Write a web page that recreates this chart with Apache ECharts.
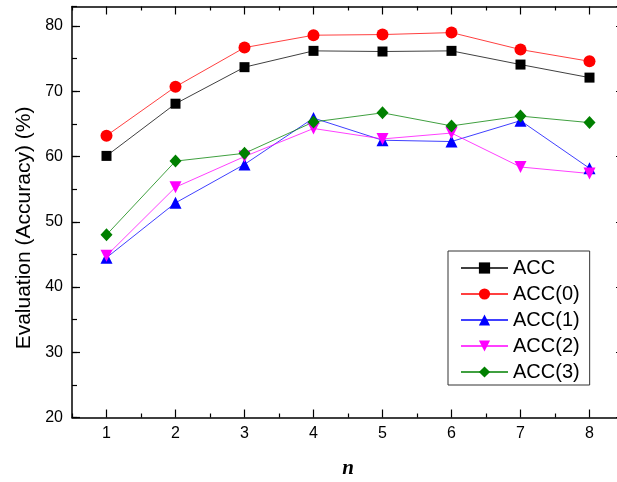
<!DOCTYPE html>
<html>
<head>
<meta charset="utf-8">
<script src="https://cdn.jsdelivr.net/npm/echarts@6/dist/echarts.min.js"></script>
<style>
html,body{margin:0;padding:0;background:#fff;}
#chart{width:617px;height:482px;}
</style>
</head>
<body>
<div id="chart"></div>
<script>
var categories = ['1', '2', '3', '4', '5', '6', '7', '8'];
var seriesNames = ['ACC', 'ACC(0)', 'ACC(1)', 'ACC(2)', 'ACC(3)'];
var acc  = [60.1, 68.1, 73.7, 76.2, 76.1, 76.2, 74.1, 72.1];
var acc0 = [63.2, 70.7, 76.7, 78.6, 78.7, 79.0, 76.4, 74.6];
var acc1 = [44.5, 52.9, 58.8, 65.9, 62.5, 62.3, 65.5, 58.2];
var acc2 = [44.8, 55.3, 60.0, 64.3, 62.7, 63.6, 58.4, 57.4];
var acc3 = [48.0, 59.3, 60.5, 65.3, 66.7, 64.7, 66.2, 65.2];
var yMin = 20, yMax = 83, yMajor = 10, yMinor = 5;
var yTitle = 'Evaluation (Accuracy) (%)';
var xTitle = 'n';

var chart = echarts.init(document.getElementById('chart'), null, {renderer: 'canvas'});
var FONT = '"Liberation Sans", Arial, sans-serif';
var lineCol = '#000';

function xAx(pos, major, labels) {
  return {
    type: 'category', data: categories, position: pos, boundaryGap: true,
    axisLine: {show: major, onZero: false, lineStyle: {color: lineCol, width: 1.5}},
    axisTick: {show: true, inside: true, alignWithLabel: major, interval: 0,
               length: major ? 8 : 4, lineStyle: {color: lineCol, width: 1.2}},
    axisLabel: {show: labels, interval: 0, color: '#000', fontSize: 16, fontFamily: FONT, margin: 8},
    splitLine: {show: false},
    name: labels ? xTitle : '', nameLocation: 'middle', nameGap: 41,
    nameTextStyle: {fontFamily: '"Liberation Serif", "Times New Roman", serif', fontStyle: 'italic',
                    fontWeight: 'bold', fontSize: 21, color: '#000'}
  };
}
function yAx(pos, major, labels) {
  return {
    type: 'value', position: pos, min: yMin, max: yMax, interval: major ? yMajor : yMinor,
    axisLine: {show: major, onZero: false, lineStyle: {color: lineCol, width: 1.5}},
    axisTick: {show: true, inside: true, length: major ? 8 : 5, lineStyle: {color: lineCol, width: 1.2}},
    axisLabel: {show: labels, showMaxLabel: false, color: '#000', fontSize: 16, fontFamily: FONT, margin: 9},
    splitLine: {show: false},
    name: labels ? yTitle : '', nameLocation: 'middle', nameGap: 37, nameRotate: 90,
    nameTextStyle: {fontFamily: FONT, fontSize: 21, color: '#000', padding: [0, 32, 0, 0]}
  };
}

var seriesData = [acc, acc0, acc1, acc2, acc3];
var colors = ['#000000', '#ff0000', '#0000ff', '#ff00ff', '#008000'];
var symbols = ['rect', 'circle', 'triangle', 'triangle', 'diamond'];
var sizes = [10, 12, 12, 12, [12, 13]];
var rotates = [0, 0, 0, 180, 0];

var series = seriesData.map(function (d, i) {
  return {
    name: seriesNames[i], type: 'line', data: d,
    xAxisIndex: 0, yAxisIndex: 0,
    symbol: symbols[i], symbolSize: sizes[i], symbolRotate: rotates[i],
    showAllSymbol: true,
    itemStyle: {color: colors[i]},
    lineStyle: {color: colors[i], width: 1, opacity: 0.75},
    emphasis: {disabled: true},
    animation: false
  };
});

chart.setOption({
  animation: false,
  backgroundColor: '#fff',
  color: colors,
  grid: {left: 72, top: 6.5, width: 552, height: 411, containLabel: false, outerBoundsMode: 'none'},
  xAxis: [xAx('bottom', true, true), xAx('top', true, false), xAx('top', false, false), xAx('bottom', false, false)],
  yAxis: [yAx('left', true, true), yAx('right', true, false), yAx('right', false, false), yAx('left', false, false)],
  legend: {
    data: seriesNames, orient: 'vertical', left: 448, top: 251,
    padding: [7, 10, 3, 12], itemGap: 6, itemWidth: 47, itemHeight: 14,
    borderColor: '#333', borderWidth: 1, backgroundColor: '#fff',
    textStyle: {fontSize: 20, lineHeight: 20, fontFamily: FONT, color: '#000'},
    selectedMode: false
  },
  series: series
});
</script>
</body>
</html>
